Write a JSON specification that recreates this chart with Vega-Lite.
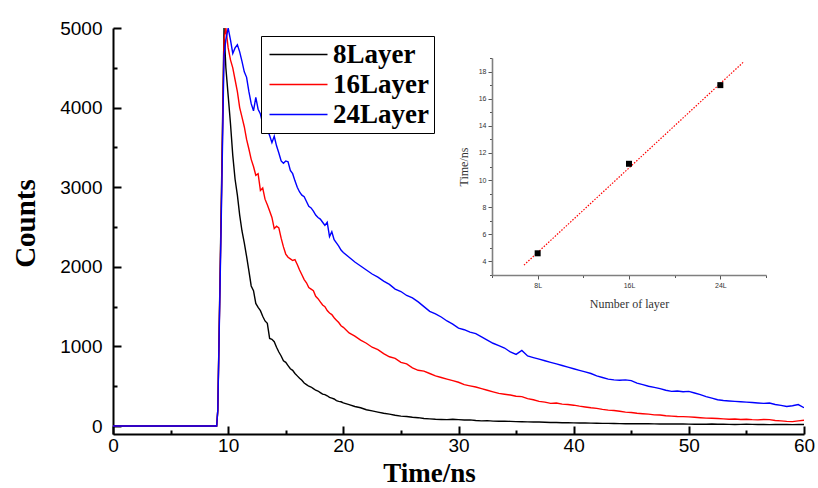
{
  "$schema": "https://vega.github.io/schema/vega-lite/v6.json",
  "width": 691,
  "height": 406,
  "autosize": {"type": "none"},
  "padding": {"left": 113, "top": 28, "right": 14, "bottom": 54},
  "background": "white",
  "config": {"view": {"stroke": null}},
  "datasets": {
    "decay": [
      {"t": 0, "8Layer": 0, "16Layer": 0, "24Layer": 0},
      {"t": 3, "8Layer": 0, "16Layer": 0, "24Layer": 0},
      {"t": 6, "8Layer": 0, "16Layer": 0, "24Layer": 0},
      {"t": 9, "8Layer": 0, "16Layer": 0, "24Layer": 0},
      {"t": 9.1, "8Layer": 200, "16Layer": 200, "24Layer": 200},
      {"t": 9.4, "8Layer": 2800, "16Layer": 2700, "24Layer": 2600},
      {"t": 9.64, "8Layer": 5000, "16Layer": 4850, "24Layer": 4650},
      {"t": 9.8, "8Layer": 4500, "16Layer": 5000, "24Layer": 4850},
      {"t": 10.0, "8Layer": 4150, "16Layer": 4750, "24Layer": 5000},
      {"t": 10.2, "8Layer": 3800, "16Layer": 4600, "24Layer": 4850},
      {"t": 10.4, "8Layer": 3400, "16Layer": 4500, "24Layer": 4680},
      {"t": 10.6, "8Layer": 3100, "16Layer": 4350, "24Layer": 4750},
      {"t": 10.8, "8Layer": 2900, "16Layer": 4200, "24Layer": 4790},
      {"t": 11.0, "8Layer": 2650, "16Layer": 4000, "24Layer": 4700},
      {"t": 11.2, "8Layer": 2450, "16Layer": 3880, "24Layer": 4580},
      {"t": 11.4, "8Layer": 2300, "16Layer": 3760, "24Layer": 4450},
      {"t": 11.6, "8Layer": 2130, "16Layer": 3600, "24Layer": 4380},
      {"t": 11.8, "8Layer": 1950, "16Layer": 3480, "24Layer": 4200},
      {"t": 12.0, "8Layer": 1760, "16Layer": 3350, "24Layer": 4050},
      {"t": 12.2, "8Layer": 1700, "16Layer": 3260, "24Layer": 3960},
      {"t": 12.4, "8Layer": 1540, "16Layer": 3150, "24Layer": 4130},
      {"t": 12.6, "8Layer": 1490, "16Layer": 3170, "24Layer": 3980},
      {"t": 12.8, "8Layer": 1450, "16Layer": 2960, "24Layer": 3920},
      {"t": 13.0, "8Layer": 1380, "16Layer": 2990, "24Layer": 3800},
      {"t": 13.2, "8Layer": 1320, "16Layer": 2850, "24Layer": 3780},
      {"t": 13.4, "8Layer": 1290, "16Layer": 2780, "24Layer": 3720},
      {"t": 13.6, "8Layer": 1100, "16Layer": 2700, "24Layer": 3650},
      {"t": 13.8, "8Layer": 1090, "16Layer": 2620, "24Layer": 3560},
      {"t": 14.0, "8Layer": 1060, "16Layer": 2480, "24Layer": 3640},
      {"t": 14.2, "8Layer": 990, "16Layer": 2510, "24Layer": 3520},
      {"t": 14.4, "8Layer": 930, "16Layer": 2490, "24Layer": 3430},
      {"t": 14.6, "8Layer": 880, "16Layer": 2360, "24Layer": 3330},
      {"t": 14.8, "8Layer": 820, "16Layer": 2250, "24Layer": 3300},
      {"t": 15.0, "8Layer": 800, "16Layer": 2160, "24Layer": 3330},
      {"t": 15.2, "8Layer": 760, "16Layer": 2120, "24Layer": 3320},
      {"t": 15.4, "8Layer": 720, "16Layer": 2100, "24Layer": 3210},
      {"t": 15.6, "8Layer": 700, "16Layer": 2080, "24Layer": 3170},
      {"t": 15.8, "8Layer": 660, "16Layer": 2090, "24Layer": 3080},
      {"t": 16.0, "8Layer": 630, "16Layer": 2030, "24Layer": 3000},
      {"t": 16.2, "8Layer": 600, "16Layer": 1960, "24Layer": 2940},
      {"t": 16.4, "8Layer": 575, "16Layer": 1900, "24Layer": 2900},
      {"t": 16.6, "8Layer": 540, "16Layer": 1840, "24Layer": 2880},
      {"t": 16.8, "8Layer": 520, "16Layer": 1800, "24Layer": 2820},
      {"t": 17.0, "8Layer": 500, "16Layer": 1740, "24Layer": 2760},
      {"t": 17.2, "8Layer": 490, "16Layer": 1720, "24Layer": 2740},
      {"t": 17.4, "8Layer": 470, "16Layer": 1700, "24Layer": 2700},
      {"t": 17.6, "8Layer": 450, "16Layer": 1630, "24Layer": 2650},
      {"t": 17.8, "8Layer": 440, "16Layer": 1600, "24Layer": 2620},
      {"t": 18.0, "8Layer": 420, "16Layer": 1560, "24Layer": 2600},
      {"t": 18.2, "8Layer": 400, "16Layer": 1520, "24Layer": 2560},
      {"t": 18.4, "8Layer": 395, "16Layer": 1500, "24Layer": 2520},
      {"t": 18.6, "8Layer": 380, "16Layer": 1450, "24Layer": 2560},
      {"t": 18.8, "8Layer": 360, "16Layer": 1420, "24Layer": 2380},
      {"t": 19.0, "8Layer": 350, "16Layer": 1400, "24Layer": 2440},
      {"t": 19.2, "8Layer": 340, "16Layer": 1360, "24Layer": 2340},
      {"t": 19.4, "8Layer": 320, "16Layer": 1330, "24Layer": 2300},
      {"t": 19.6, "8Layer": 310, "16Layer": 1300, "24Layer": 2260},
      {"t": 19.8, "8Layer": 305, "16Layer": 1260, "24Layer": 2210},
      {"t": 20.0, "8Layer": 290, "16Layer": 1240, "24Layer": 2180},
      {"t": 20.5, "8Layer": 270, "16Layer": 1170, "24Layer": 2120},
      {"t": 21.0, "8Layer": 245, "16Layer": 1130, "24Layer": 2060},
      {"t": 21.5, "8Layer": 230, "16Layer": 1080, "24Layer": 2010},
      {"t": 22.0, "8Layer": 205, "16Layer": 1040, "24Layer": 1960},
      {"t": 22.5, "8Layer": 190, "16Layer": 990, "24Layer": 1910},
      {"t": 23.0, "8Layer": 175, "16Layer": 960, "24Layer": 1870},
      {"t": 23.5, "8Layer": 160, "16Layer": 910, "24Layer": 1820},
      {"t": 24.0, "8Layer": 150, "16Layer": 870, "24Layer": 1780},
      {"t": 24.5, "8Layer": 135, "16Layer": 850, "24Layer": 1720},
      {"t": 25.0, "8Layer": 125, "16Layer": 800, "24Layer": 1690},
      {"t": 25.5, "8Layer": 120, "16Layer": 780, "24Layer": 1640},
      {"t": 26.0, "8Layer": 110, "16Layer": 730, "24Layer": 1610},
      {"t": 26.5, "8Layer": 105, "16Layer": 700, "24Layer": 1560},
      {"t": 27.0, "8Layer": 95, "16Layer": 690, "24Layer": 1500},
      {"t": 27.5, "8Layer": 90, "16Layer": 660, "24Layer": 1440},
      {"t": 28.0, "8Layer": 85, "16Layer": 630, "24Layer": 1410},
      {"t": 28.5, "8Layer": 82, "16Layer": 610, "24Layer": 1370},
      {"t": 29.0, "8Layer": 80, "16Layer": 590, "24Layer": 1320},
      {"t": 29.5, "8Layer": 85, "16Layer": 570, "24Layer": 1280},
      {"t": 30.0, "8Layer": 80, "16Layer": 550, "24Layer": 1230},
      {"t": 30.5, "8Layer": 75, "16Layer": 520, "24Layer": 1210},
      {"t": 31.0, "8Layer": 78, "16Layer": 505, "24Layer": 1180},
      {"t": 31.5, "8Layer": 70, "16Layer": 490, "24Layer": 1160},
      {"t": 32.0, "8Layer": 65, "16Layer": 470, "24Layer": 1120},
      {"t": 32.5, "8Layer": 68, "16Layer": 450, "24Layer": 1080},
      {"t": 33.0, "8Layer": 62, "16Layer": 430, "24Layer": 1040},
      {"t": 33.5, "8Layer": 60, "16Layer": 410, "24Layer": 1010},
      {"t": 34.0, "8Layer": 62, "16Layer": 400, "24Layer": 980},
      {"t": 34.5, "8Layer": 58, "16Layer": 390, "24Layer": 930},
      {"t": 35.0, "8Layer": 55, "16Layer": 375, "24Layer": 900},
      {"t": 35.5, "8Layer": 54, "16Layer": 370, "24Layer": 950},
      {"t": 36.0, "8Layer": 52, "16Layer": 345, "24Layer": 880},
      {"t": 36.5, "8Layer": 51, "16Layer": 330, "24Layer": 860},
      {"t": 37.0, "8Layer": 50, "16Layer": 310, "24Layer": 840},
      {"t": 37.5, "8Layer": 48, "16Layer": 300, "24Layer": 820},
      {"t": 38.0, "8Layer": 45, "16Layer": 285, "24Layer": 800},
      {"t": 38.5, "8Layer": 44, "16Layer": 290, "24Layer": 780},
      {"t": 39.0, "8Layer": 42, "16Layer": 275, "24Layer": 760},
      {"t": 39.5, "8Layer": 41, "16Layer": 270, "24Layer": 740},
      {"t": 40.0, "8Layer": 40, "16Layer": 262, "24Layer": 720},
      {"t": 40.5, "8Layer": 39, "16Layer": 250, "24Layer": 700},
      {"t": 41.0, "8Layer": 38, "16Layer": 240, "24Layer": 680},
      {"t": 41.5, "8Layer": 36, "16Layer": 230, "24Layer": 660},
      {"t": 42.0, "8Layer": 35, "16Layer": 222, "24Layer": 630},
      {"t": 42.5, "8Layer": 34, "16Layer": 210, "24Layer": 610},
      {"t": 43.0, "8Layer": 33, "16Layer": 200, "24Layer": 590},
      {"t": 43.5, "8Layer": 32, "16Layer": 195, "24Layer": 580},
      {"t": 44.0, "8Layer": 30, "16Layer": 185, "24Layer": 575},
      {"t": 44.5, "8Layer": 29, "16Layer": 175, "24Layer": 580},
      {"t": 45.0, "8Layer": 28, "16Layer": 170, "24Layer": 570},
      {"t": 45.5, "8Layer": 29, "16Layer": 160, "24Layer": 540},
      {"t": 46.0, "8Layer": 30, "16Layer": 155, "24Layer": 520},
      {"t": 46.5, "8Layer": 28, "16Layer": 150, "24Layer": 500},
      {"t": 47.0, "8Layer": 27, "16Layer": 140, "24Layer": 485},
      {"t": 47.5, "8Layer": 26, "16Layer": 138, "24Layer": 470},
      {"t": 48.0, "8Layer": 25, "16Layer": 130, "24Layer": 450},
      {"t": 48.5, "8Layer": 26, "16Layer": 125, "24Layer": 435},
      {"t": 49.0, "8Layer": 26, "16Layer": 120, "24Layer": 440},
      {"t": 49.5, "8Layer": 25, "16Layer": 118, "24Layer": 430},
      {"t": 50.0, "8Layer": 24, "16Layer": 115, "24Layer": 435},
      {"t": 50.5, "8Layer": 23, "16Layer": 110, "24Layer": 415},
      {"t": 51.0, "8Layer": 22, "16Layer": 105, "24Layer": 395},
      {"t": 51.5, "8Layer": 23, "16Layer": 100, "24Layer": 370},
      {"t": 52.0, "8Layer": 25, "16Layer": 98, "24Layer": 350},
      {"t": 52.5, "8Layer": 23, "16Layer": 95, "24Layer": 330},
      {"t": 53.0, "8Layer": 22, "16Layer": 90, "24Layer": 320},
      {"t": 53.5, "8Layer": 21, "16Layer": 85, "24Layer": 315},
      {"t": 54.0, "8Layer": 20, "16Layer": 88, "24Layer": 310},
      {"t": 54.5, "8Layer": 21, "16Layer": 82, "24Layer": 305},
      {"t": 55.0, "8Layer": 22, "16Layer": 85, "24Layer": 300},
      {"t": 55.5, "8Layer": 21, "16Layer": 80, "24Layer": 295},
      {"t": 56.0, "8Layer": 20, "16Layer": 78, "24Layer": 290},
      {"t": 56.5, "8Layer": 19, "16Layer": 82, "24Layer": 285},
      {"t": 57.0, "8Layer": 18, "16Layer": 80, "24Layer": 290},
      {"t": 57.5, "8Layer": 19, "16Layer": 70, "24Layer": 270},
      {"t": 58.0, "8Layer": 20, "16Layer": 65, "24Layer": 260},
      {"t": 58.5, "8Layer": 19, "16Layer": 58, "24Layer": 245},
      {"t": 59.0, "8Layer": 18, "16Layer": 55, "24Layer": 255},
      {"t": 59.5, "8Layer": 19, "16Layer": 65, "24Layer": 270},
      {"t": 60.0, "8Layer": 20, "16Layer": 72, "24Layer": 230}
    ],
    "fit": [
      {"n": 6.8, "time": 3.73},
      {"n": 26.0, "time": 18.68}
    ],
    "points": [
      {"n": 8, "time": 4.6},
      {"n": 16, "time": 11.2},
      {"n": 24, "time": 17.0}
    ]
  },
  "layer": [
    {
      "data": {"name": "decay"},
      "transform": [
        {"fold": ["8Layer", "16Layer", "24Layer"], "as": ["series", "counts"]}
      ],
      "mark": {"type": "line", "strokeWidth": 1.4, "clip": true},
      "encoding": {
        "x": {
          "field": "t", "type": "quantitative",
          "scale": {"domain": [0, 60], "nice": false, "zero": false},
          "axis": {
            "orient": "bottom",
            "title": "Time/ns",
            "values": [0, 5, 10, 15, 20, 25, 30, 35, 40, 45, 50, 55, 60],
            "labelExpr": "datum.value % 10 === 0 ? datum.label : ''",
            "tickSize": {"condition": {"test": "datum.value % 10 === 0", "value": -8}, "value": -4},
            "grid": false,
            "domainColor": "black", "domainWidth": 2,
            "tickColor": "black", "tickWidth": 2,
            "labelFont": "Liberation Sans", "labelFontSize": 19, "labelColor": "black",
            "labelPadding": 10, "labelFlush": false, "labelOverlap": false,
            "titleFont": "Liberation Serif", "titleFontSize": 27, "titleFontWeight": "bold", "titleColor": "black",
            "titleX": 316, "titleY": 53, "titleBaseline": "bottom", "titleAnchor": null
          }
        },
        "y": {
          "field": "counts", "type": "quantitative",
          "scale": {"domain": [-100, 5000], "nice": false, "zero": false},
          "axis": {
            "orient": "left",
            "title": "Counts",
            "values": [0, 500, 1000, 1500, 2000, 2500, 3000, 3500, 4000, 4500, 5000],
            "labelExpr": "datum.value % 1000 === 0 ? datum.value : ''",
            "tickSize": {"condition": {"test": "datum.value % 1000 === 0", "value": -8}, "value": -4},
            "grid": false,
            "domainColor": "black", "domainWidth": 2,
            "tickColor": "black", "tickWidth": 2,
            "labelFont": "Liberation Sans", "labelFontSize": 19, "labelColor": "black",
            "labelPadding": 19, "labelFlush": false, "labelOverlap": false,
            "titleFont": "Liberation Serif", "titleFontSize": 29, "titleFontWeight": "bold", "titleColor": "black",
            "titleX": -88, "titleY": 195, "titleAngle": -90, "titleBaseline": "middle", "titleAlign": "center", "titleAnchor": null
          }
        },
        "color": {
          "field": "series", "type": "nominal",
          "scale": {"domain": ["8Layer", "16Layer", "24Layer"], "range": ["#000000", "#ff0000", "#0000ff"]},
          "legend": {
            "orient": "none", "legendX": 148, "legendY": 8,
            "title": null,
            "symbolType": "M-3,0L3,0", "symbolSize": 374, "symbolStrokeWidth": 1.5,
            "symbolOffset": 19,
            "labelFont": "Liberation Serif", "labelFontSize": 27, "labelFontWeight": "bold", "labelColor": "black",
            "labelOffset": 21, "rowPadding": 2, "padding": 5,
            "strokeColor": "black", "fillColor": "white"
          }
        }
      }
    },
    {
      "encoding": {
        "x": {
          "field": "n", "type": "quantitative",
          "scale": {"domain": [4, 28], "range": [379, 653], "nice": false, "zero": false},
          "axis": {
            "orient": "bottom", "offset": -159,
            "title": "Number of layer",
            "values": [4, 8, 12, 16, 20, 24, 28],
            "labelExpr": "(datum.value == 8 || datum.value == 16 || datum.value == 24) ? datum.value + 'L' : ''",
            "tickSize": {"condition": {"test": "datum.value % 8 === 0", "value": 4}, "value": 2.5},
            "grid": false,
            "domainColor": "#7f7f7f", "domainWidth": 1.6,
            "tickColor": "#555555", "tickWidth": 1,
            "labelFont": "Liberation Sans", "labelFontSize": 7, "labelColor": "#333333",
            "labelPadding": 2, "labelFlush": false, "labelOverlap": false,
            "titleFont": "Liberation Serif", "titleFontSize": 12, "titleFontWeight": "normal", "titleColor": "#333333",
            "titlePadding": 10
          }
        },
        "y": {
          "field": "time", "type": "quantitative",
          "scale": {"domain": [3, 19], "range": [247, 30], "nice": false, "zero": false},
          "axis": {
            "orient": "left", "offset": -379,
            "title": "Time/ns",
            "values": [3, 4, 5, 6, 7, 8, 9, 10, 11, 12, 13, 14, 15, 16, 17, 18, 19],
            "labelExpr": "(datum.value % 2 === 0) ? datum.label : ''",
            "tickSize": {"condition": {"test": "datum.value % 2 === 0", "value": 4}, "value": 2.5},
            "grid": false,
            "domainColor": "#7f7f7f", "domainWidth": 1.6,
            "tickColor": "#555555", "tickWidth": 1,
            "labelFont": "Liberation Sans", "labelFontSize": 7, "labelColor": "#333333",
            "labelPadding": 2, "labelFlush": false, "labelOverlap": false,
            "titleFont": "Liberation Serif", "titleFontSize": 12, "titleFontWeight": "normal", "titleColor": "#333333",
            "titlePadding": 8
          }
        }
      },
      "layer": [
        {
          "data": {"name": "fit"},
          "mark": {"type": "line", "color": "#ff0000", "strokeWidth": 1.2, "strokeDash": [1.5, 1.5]}
        },
        {
          "data": {"name": "points"},
          "mark": {"type": "point", "shape": "square", "filled": true, "color": "#000000", "size": 36, "opacity": 1}
        }
      ]
    }
  ],
  "resolve": {"scale": {"x": "independent", "y": "independent"}}
}
